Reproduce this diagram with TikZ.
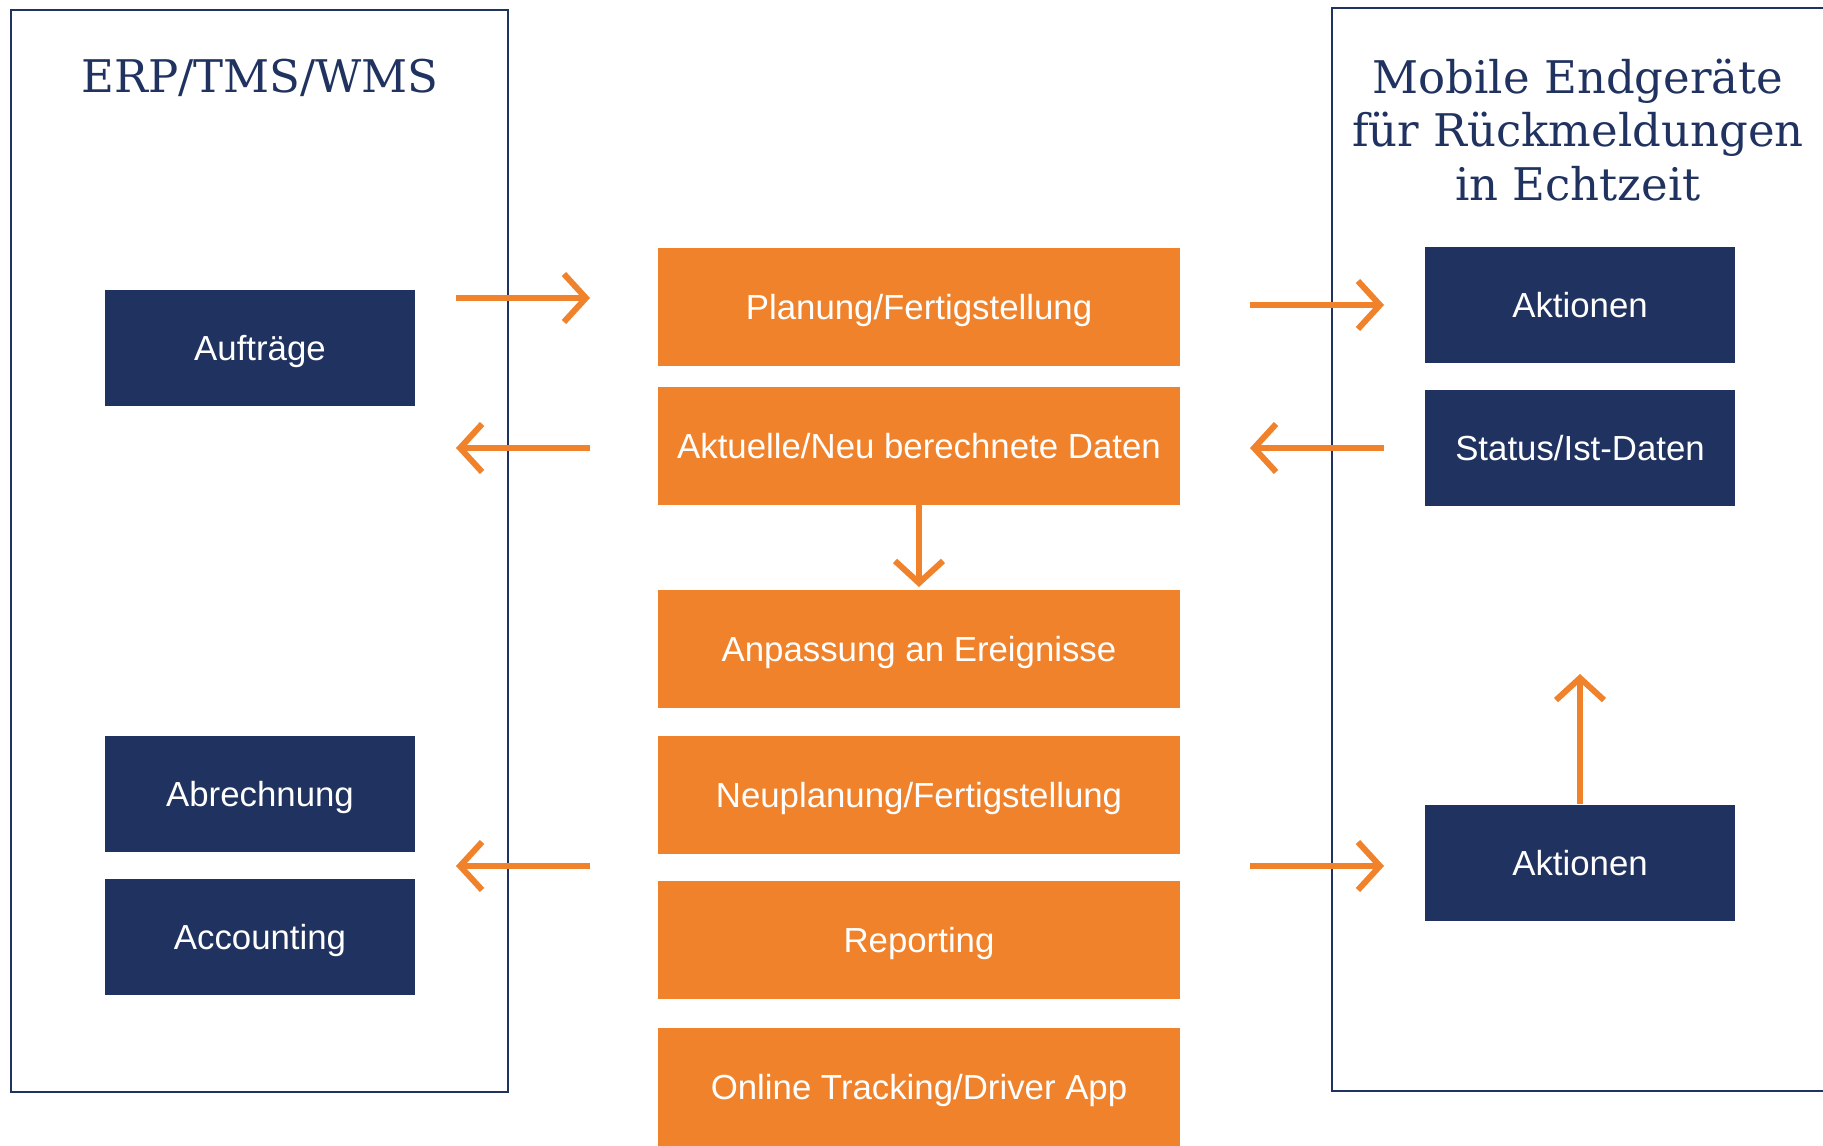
\documentclass[tikz,border=0pt]{standalone}
\usepackage{fontspec}
\setmainfont{Liberation Sans}
\newfontfamily\slab{DejaVu Serif}
\usetikzlibrary{arrows.meta}
\definecolor{navy}{HTML}{20325F}
\definecolor{orng}{HTML}{F0822C}
\begin{document}
\begin{tikzpicture}[x=0.5pt,y=-0.5pt,
  frame/.style={draw=navy, line width=1.3pt},
  boxtxt/.style={inner sep=0pt, text=white, text height=12.5pt, text depth=0pt, font=\fontsize{17.4}{21}\selectfont},
  obox/.style={boxtxt, fill=orng, minimum width=261pt, minimum height=59pt},
  nbox/.style={boxtxt, fill=navy, minimum width=155pt, minimum height=58pt},
  flow/.style={draw=orng, line width=3pt, -{Straight Barb[length=11pt,width=24pt]}},
  ttl/.style={text=navy, font=\slab\fontsize{22.5}{26.7}\selectfont, align=center, inner sep=0pt}]
\useasboundingbox (0,0) rectangle (1823,1145);
\clip (0,0) rectangle (1823,1145);
% frames
\draw[frame] (11,10) rectangle (508,1092);
\draw[frame] (1332,8) rectangle (1860,1091);
% titles
\node[ttl, anchor=base] (t1) at (260,93) {ERP/TMS/WMS};
\node[ttl, anchor=base] (t2) at (1578,200) {Mobile Endgeräte\\für Rückmeldungen\\in Echtzeit};
% orange boxes
\node[obox] (plan) at (919,307) {Planung/Fertigstellung};
\node[obox] (akt) at (919,446) {Aktuelle/Neu berechnete Daten};
\node[obox] (anp) at (919,649) {Anpassung an Ereignisse};
\node[obox] (neu) at (919,795) {Neuplanung/Fertigstellung};
\node[obox] (rep) at (919,940) {Reporting};
\node[obox] (onl) at (919,1087) {Online Tracking/Driver App};
% navy boxes left
\node[nbox] (auf) at (260,347.5) {Aufträge};
\node[nbox] (abr) at (260,794) {Abrechnung};
\node[nbox] (acc) at (260,937) {Accounting};
% navy boxes right
\node[nbox] (ak1) at (1580,304.5) {Aktionen};
\node[nbox] (sta) at (1580,447.5) {Status/Ist-Daten};
\node[nbox] (ak2) at (1580,862.5) {Aktionen};
% arrow end points
\coordinate (l1a) at (456,298);  \coordinate (l1b) at (590,298);
\coordinate (l2a) at (590,448);  \coordinate (l2b) at (456,448);
\coordinate (l3a) at (590,866);  \coordinate (l3b) at (456,866);
\coordinate (r1a) at (1250,305); \coordinate (r1b) at (1384,305);
\coordinate (r2a) at (1384,448); \coordinate (r2b) at (1250,448);
\coordinate (r3a) at (1250,866); \coordinate (r3b) at (1384,866);
\coordinate (dn) at (919,587);
\coordinate (up) at (1580,674);
% arrows
\draw[flow] (l1a) -- (l1b);
\draw[flow] (l2a) -- (l2b);
\draw[flow] (l3a) -- (l3b);
\draw[flow] (r1a) -- (r1b);
\draw[flow] (r2a) -- (r2b);
\draw[flow] (r3a) -- (r3b);
\draw[flow] (akt.south) -- (dn);
\draw[flow] (ak2.north) -- (up);
\end{tikzpicture}
\end{document}
